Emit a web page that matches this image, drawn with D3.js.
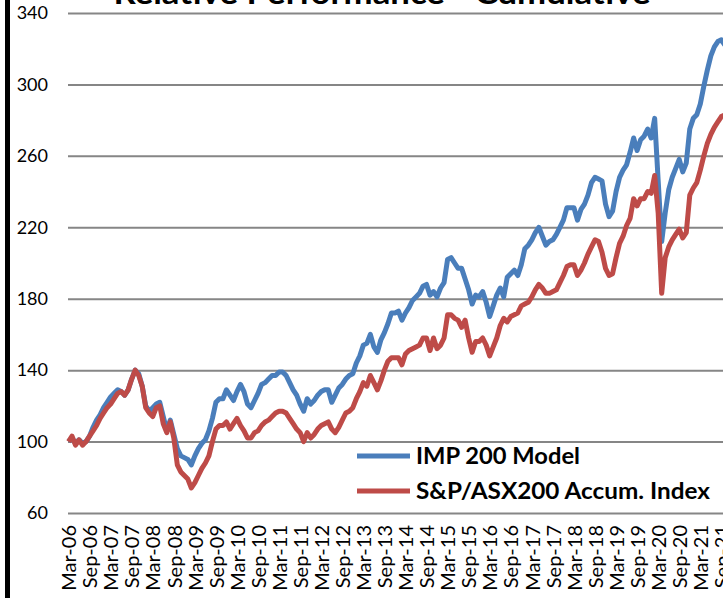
<!DOCTYPE html>
<html>
<head>
<meta charset="utf-8">
<script src="https://cdn.jsdelivr.net/npm/d3@7"></script>
<style>
  html, body { margin: 0; padding: 0; background: #fff; overflow: hidden; }
  svg { display: block; }
  text { font-family: Lato, "Open Sans", "Liberation Sans", sans-serif; fill: #000; }
</style>
</head>
<body>
<svg id="chart" width="723" height="598"></svg>
<script>
// ---------- DATA ----------
const titleText = "Relative Performance - Cumulative";
const seriesNames = ["IMP 200 Model", "S&P/ASX200 Accum. Index"];
const seriesColors = ["#4A7EBB", "#BE4B48"];

const monthNames = ["Jan","Feb","Mar","Apr","May","Jun","Jul","Aug","Sep","Oct","Nov","Dec"];
const startYear = 2006, startMonth = 2; // Mar-06

const tickLabels = ["Mar-06","Sep-06","Mar-07","Sep-07","Mar-08","Sep-08","Mar-09","Sep-09",
  "Mar-10","Sep-10","Mar-11","Sep-11","Mar-12","Sep-12","Mar-13","Sep-13","Mar-14","Sep-14",
  "Mar-15","Sep-15","Mar-16","Sep-16","Mar-17","Sep-17","Mar-18","Sep-18","Mar-19","Sep-19",
  "Mar-20","Sep-20","Mar-21","Sep-21"];

const yTicks = [60, 100, 140, 180, 220, 260, 300, 340];

const impModel = [
  100,102,99,101,99,100,103,108,112,115,119,122,125,127,129,128,126,129,135,140,
  138,131,120,117,119,121,122,114,106,112,104,96,92,91,90,87,92,96,99,101,
  106,113,122,124,124,129,126,123,128,132,128,121,119,123,127,132,133,135,137,137,
  139,139,137,133,129,126,121,117,124,121,123,126,128,129,129,122,126,130,132,135,
  137,138,144,148,154,155,160,153,150,157,161,166,172,172,173,168,172,175,179,181,
  183,187,188,182,184,181,186,189,202,203,200,197,197,191,185,177,182,181,184,178,
  170,176,182,186,181,192,194,196,193,199,208,210,213,217,220,215,210,212,213,216,
  220,224,231,231,231,224,230,233,238,245,248,247,246,233,226,229,240,248,252,255,
  262,270,263,269,271,275,270,281,246,212,228,241,248,253,258,251,256,275,281,283,
  289,299,308,316,321,324,325,322
];

const asx200 = [
  100,103,98,101,98,100,103,106,109,113,116,119,121,124,127,128,126,129,135,140,
  137,131,119,116,114,119,120,110,105,111,102,87,83,81,79,74,77,81,85,88,
  92,100,107,109,109,111,107,110,113,109,106,102,102,105,106,109,111,112,114,116,
  117,117,116,113,110,107,105,100,105,102,104,107,109,110,111,107,105,108,112,116,
  117,119,124,128,133,131,137,133,129,134,140,145,147,147,147,143,149,151,152,153,
  154,158,158,151,158,152,154,158,171,171,169,168,164,168,158,150,156,156,158,154,
  148,153,158,165,169,167,170,171,172,176,177,178,181,185,188,186,183,183,184,185,
  189,193,198,199,199,193,196,200,205,209,213,212,206,197,193,194,203,211,215,221,
  225,236,232,236,236,240,239,249,228,183,203,209,213,216,219,214,217,238,242,245,
  252,260,267,272,276,279,282,283
];

// month categories
const categories = impModel.map((_, i) => {
  const m = (startMonth + i) % 12;
  const y = startYear + Math.floor((startMonth + i) / 12);
  return monthNames[m] + "-" + String(y % 100).padStart(2, "0");
});

// ---------- LAYOUT ----------
const W = 723, H = 598;
const plotLeft = 68.5, step = 3.51;
const plotRight = plotLeft + step * (categories.length - 1);
const yTop = 13, yBottom = 513;

const svg = d3.select("#chart");
svg.append("rect").attr("x", 0).attr("y", 0).attr("width", W).attr("height", H).attr("fill", "#fff");

const x = d3.scalePoint().domain(categories).range([plotLeft, plotRight]);
const y = d3.scaleLinear().domain([60, 340]).range([yBottom, yTop]);

// gridlines + y labels
const yAxis = d3.axisLeft(y).tickValues(yTicks).tickSize(-(W + 20 - 68)).tickPadding(20);
const gy = svg.append("g").attr("transform", `translate(68,0)`).call(yAxis);
gy.select(".domain").remove();
gy.selectAll(".tick line").attr("stroke", "#868686").attr("stroke-width", 2);
gy.selectAll(".tick text").attr("font-size", 18).attr("font-family", "Lato, sans-serif").attr("fill", "#000");

// x labels
const xAxis = d3.axisBottom(x).tickValues(tickLabels).tickSize(0);
const gx = svg.append("g").attr("transform", `translate(0,${yBottom})`).call(xAxis);
gx.select(".domain").remove();
gx.selectAll(".tick text")
  .attr("x", 0).attr("y", 0).attr("dy", "0.36em")
  .attr("transform", "translate(0,12) rotate(-90)")
  .attr("text-anchor", "end")
  .attr("font-size", 20)
  .attr("font-family", "Lato, sans-serif")
  .attr("fill", "#000");

// lines
const line = d3.line().x((d, i) => x(categories[i])).y(d => y(d));
[impModel, asx200].forEach((vals, k) => {
  svg.append("path")
    .datum(vals)
    .attr("d", line)
    .attr("fill", "none")
    .attr("stroke", seriesColors[k])
    .attr("stroke-width", 5)
    .attr("stroke-linejoin", "round");
});

// title (cut at top)
svg.append("text")
  .attr("x", 382).attr("y", 4)
  .attr("text-anchor", "middle")
  .attr("font-weight", "bold")
  .attr("font-size", 30)
  .attr("textLength", 537)
  .attr("lengthAdjust", "spacingAndGlyphs")
  .text(titleText);

// legend
const legY = [456, 491];
const legW = [164, 294];
seriesNames.forEach((name, k) => {
  svg.append("line")
    .attr("x1", 357).attr("x2", 410)
    .attr("y1", legY[k]).attr("y2", legY[k])
    .attr("stroke", seriesColors[k]).attr("stroke-width", 5);
  svg.append("text")
    .attr("x", 416).attr("y", legY[k] + 8)
    .attr("font-weight", "bold")
    .attr("font-size", 22)
    .attr("textLength", legW[k])
    .attr("lengthAdjust", "spacingAndGlyphs")
    .text(name);
});

// left black border
svg.append("rect").attr("x", 5).attr("y", 0).attr("width", 5).attr("height", H).attr("fill", "#000");
</script>
</body>
</html>
